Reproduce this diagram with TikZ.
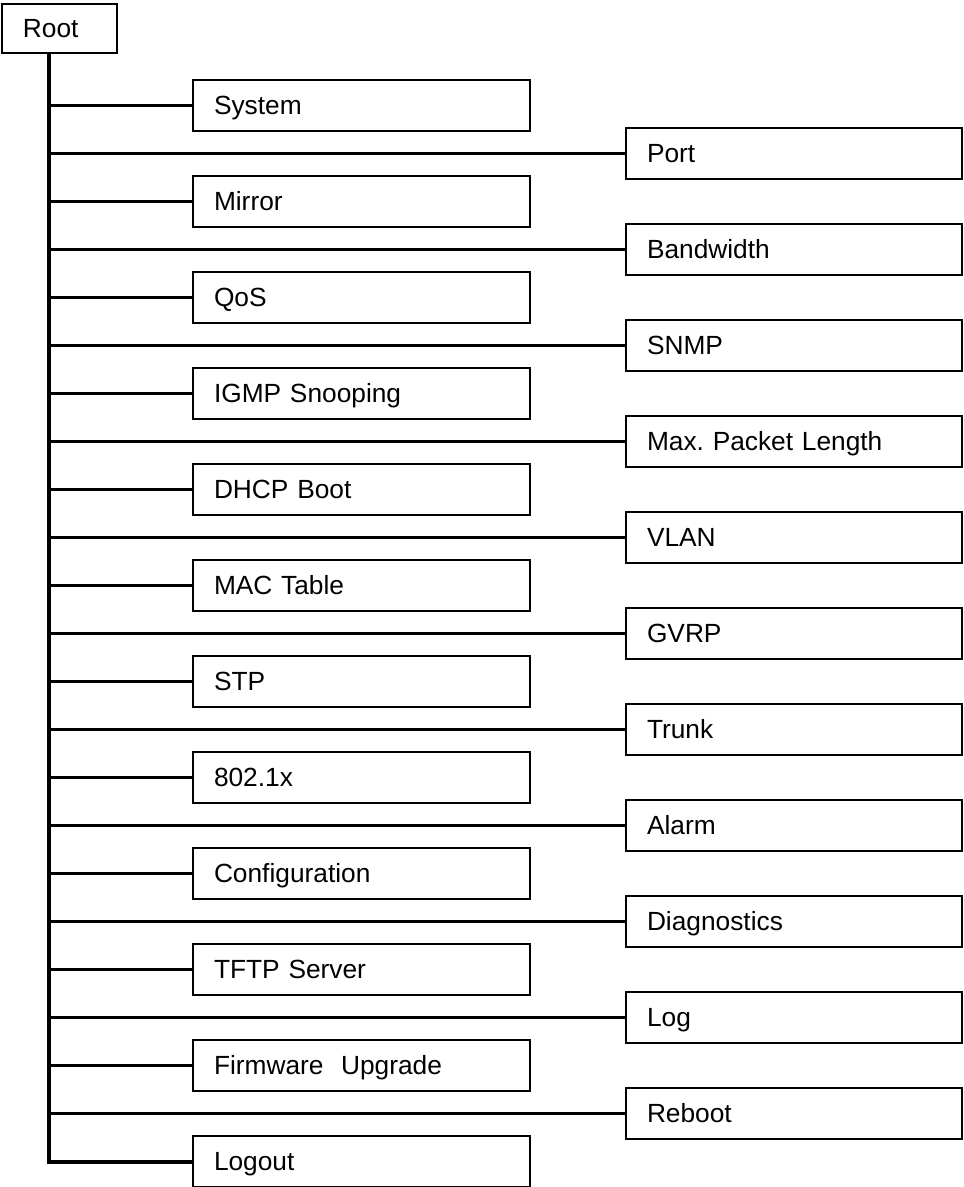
\documentclass[tikz,border=0pt]{standalone}
\usepackage{fontspec}
\setmainfont{Liberation Sans}
\frenchspacing
\begin{document}
\begin{tikzpicture}[x=1pt,y=-1pt,
  box/.style={draw=black,line width=1.8pt,rectangle,minimum height=51pt,
    inner xsep=21pt,inner ysep=0pt,text height=18.8pt,text depth=0pt,
    align=left,font=\fontsize{26.3}{31}\selectfont},
  lbox/.style={box,minimum width=337pt,text width=295pt},
  rbox/.style={box,minimum width=336pt,text width=294pt},
  trunk/.style={line width=4pt,line join=miter},
  branch/.style={line width=3.5pt}]
\useasboundingbox (0,0) rectangle (964,1187);
\node[box,minimum width=115pt,minimum height=49pt,text width=73pt] (root) at (59.5,28.5) {Root};
\coordinate (tx) at (49,0);
% left boxes
\foreach \n/\t [count=\i from 0] in {l0/System,l1/Mirror,l2/QoS,l3/IGMP Snooping,l4/DHCP Boot,l5/MAC Table,l6/STP,l7/802.1x,l8/Configuration,l9/TFTP Server,l10/Firmware\ \ Upgrade,l11/Logout}
  \node[lbox] (\n) at (361.5,105.5+96*\i) {\t};
% right boxes
\foreach \n/\t [count=\i from 0] in {r0/Port,r1/Bandwidth,r2/SNMP,r3/Max. Packet Length,r4/VLAN,r5/GVRP,r6/Trunk,r7/Alarm,r8/Diagnostics,r9/Log,r10/Reboot}
  \node[rbox] (\n) at (794,153.5+96*\i) {\t};
% trunk
\draw[trunk] (root.south -| tx) |- (l11.west);
\foreach \n in {l0,l1,l2,l3,l4,l5,l6,l7,l8,l9,l10,r0,r1,r2,r3,r4,r5,r6,r7,r8,r9,r10}
  \draw[branch] (tx |- \n.west) -- (\n.west);
\end{tikzpicture}
\end{document}
